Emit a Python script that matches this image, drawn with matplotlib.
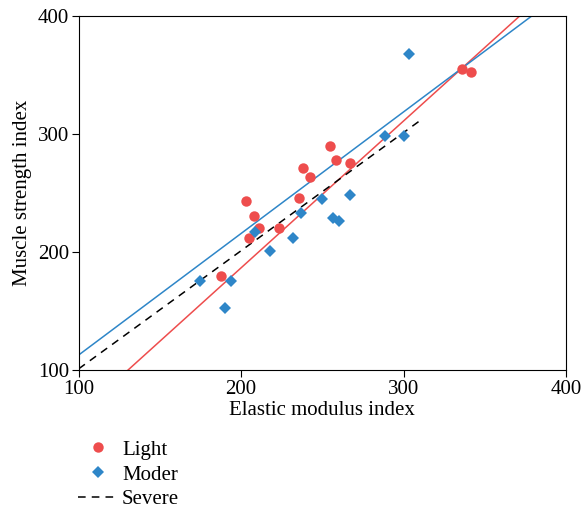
import numpy as np
import matplotlib
matplotlib.use("Agg")
import matplotlib.pyplot as plt

plt.rcParams["font.family"] = ["Liberation Serif", "DejaVu Serif"]

# Light group (red circles)
light_x = [202.8, 207.9, 210.8, 205.0, 223.5, 187.4, 235.4, 238.1, 242.4,
           254.7, 258.6, 267.2, 336.0, 341.5]
light_y = [243.1, 230.4, 220.5, 211.8, 220.5, 179.8, 245.9, 270.8, 263.2,
           289.9, 277.8, 275.0, 354.6, 352.3]

# Moderate group (blue diamonds)
moder_x = [174.5, 193.8, 190.3, 208.5, 218.0, 232.1, 236.9, 250.0, 256.6,
           260.3, 266.8, 288.8, 300.1, 303.3]
moder_y = [175.6, 175.6, 152.2, 216.9, 200.5, 211.8, 232.9, 244.8, 228.5,
           226.4, 247.9, 298.4, 298.1, 367.3]

# fitted lines: (slope, intercept)
light_fit = (1.243, 100 - 1.243 * 130.4)
moder_fit = (1.029, 112.7 - 1.029 * 100)
severe_fit = (1.0, 1.0)
severe_range = (100, 310)

ticks = [100, 200, 300, 400]

RED = "#EE4D4D"
BLUE = "#2E86C8"
FS = 15

fig = plt.figure(figsize=(5.81, 5.13), dpi=100)
ax = fig.add_axes([0.1355, 0.2788, 0.8385, 0.6906])

xs = np.array([100, 400])
ax.plot(xs, light_fit[0] * xs + light_fit[1], color=RED, lw=1.1)
ax.plot(xs, moder_fit[0] * xs + moder_fit[1], color=BLUE, lw=1.1)
xs_sev = np.array(severe_range)
sev_line, = ax.plot(xs_sev, severe_fit[0] * xs_sev + severe_fit[1],
                    color="black", lw=1.1, ls=(0, (5, 4)), label="Severe")

light_pts, = ax.plot(light_x, light_y, "o", color=RED, ms=7.5, mew=0,
                     label="Light")
moder_pts, = ax.plot(moder_x, moder_y, "D", color=BLUE, ms=6.5, mew=0,
                     label="Moder")

ax.set_xlim(100, 400)
ax.set_ylim(100, 400)
ax.set_xticks(ticks)
ax.set_yticks(ticks)
ax.tick_params(labelsize=FS, direction="out", length=5, width=0.8, pad=2)
ax.set_xlabel("Elastic modulus index", fontsize=FS, labelpad=2)
ax.set_ylabel("Muscle strength index", fontsize=FS, labelpad=4)

fig.legend(handles=[light_pts, moder_pts, sev_line], loc="upper left",
           bbox_to_anchor=(0.134, 0.142), frameon=False, fontsize=FS,
           handlelength=1.92, handletextpad=0.2, labelspacing=0.25,
           borderpad=0, borderaxespad=0)

fig.savefig("out.png", dpi=100)
